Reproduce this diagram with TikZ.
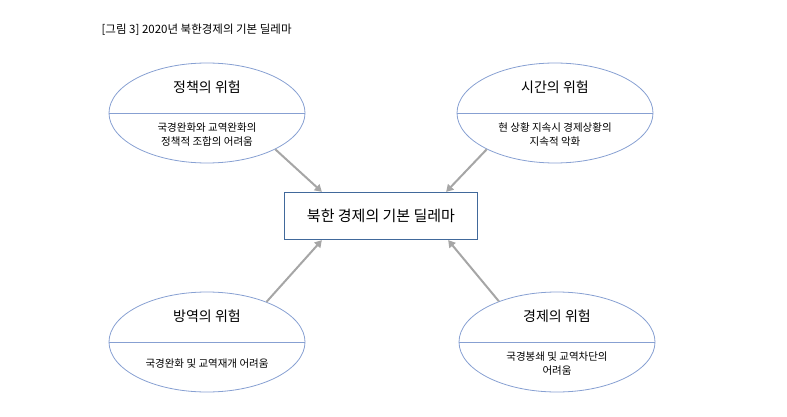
\documentclass[tikz,border=0pt]{standalone}
\usepackage{fontspec}
\setmainfont{Noto Sans CJK KR}
\usetikzlibrary{shapes.geometric,arrows.meta}
\definecolor{rimblue}{RGB}{135,160,210}
\definecolor{boxblue}{RGB}{65,105,155}
\tikzset{
  risk/.style={draw=rimblue, ellipse, minimum width=196pt, minimum height=100pt, line width=0.8pt},
  head/.style={font=\fontsize{14}{16}\selectfont},
  body/.style={font=\fontsize{10.5}{14}\selectfont, align=center},
  link/.style={draw=gray!70, line width=2pt, -{Triangle[length=7pt,width=8pt]}},
}
\begin{document}
\begin{tikzpicture}[x=1pt,y=-1pt]
  \useasboundingbox (0,0) rectangle (787,417);

  % title
  \node[anchor=west, font=\fontsize{11.5}{13}\selectfont] (title) at (98,30) {[그림 3] 2020년 북한경제의 기본 딜레마};

  % centre
  \node[draw=boxblue, line width=1.3pt, minimum width=193pt, minimum height=47pt,
        font=\fontsize{15}{17}\selectfont] (core) at (381,216) {북한 경제의 기본 딜레마};

  % risks
  \foreach \name/\x/\y/\top/\txt in {
      policy/207/113/정책의 위험/{국경완화와 교역완화의\\정책적 조합의 어려움},
      time/555/113/시간의 위험/{현 상황 지속시 경제상황의\\지속적 악화},
      quar/207/342/방역의 위험/{국경완화 및 교역재개 어려움},
      econ/557/342/경제의 위험/{국경봉쇄 및 교역차단의\\어려움}} {
    \node[risk] (\name) at (\x,\y) {};
    \draw[draw=rimblue, line width=0.8pt] (\name.west) -- (\name.east);
    \node[head] (\name-top) at (\x,\y-26) {\top};
    \node[body] (\name-txt) at (\x,\y+22) {\txt};
  }

  % arrows
  \draw[link] (policy.-28) -- ([xshift=38pt]core.north west);
  \draw[link] (time.-152) -- ([xshift=-32pt]core.north east);
  \draw[link] (quar.34) -- ([xshift=38pt]core.south west);
  \draw[link] (econ.145) -- ([xshift=-30pt]core.south east);
\end{tikzpicture}
\end{document}
